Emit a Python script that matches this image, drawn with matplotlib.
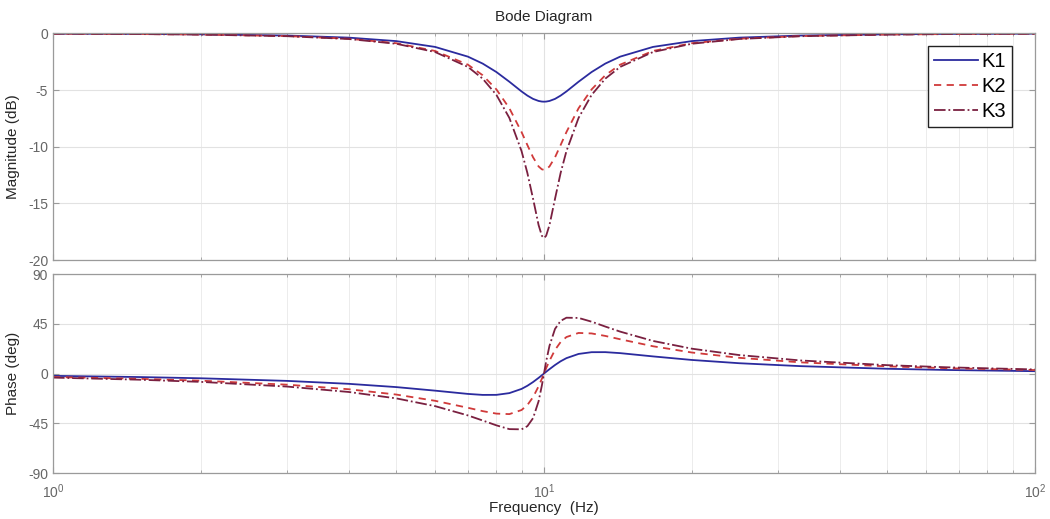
import numpy as np
import matplotlib
matplotlib.use("Agg")
import matplotlib.pyplot as plt
from matplotlib.ticker import LogLocator, NullFormatter, FixedLocator

plt.rcParams['font.family'] = ['Liberation Sans', 'DejaVu Sans']
plt.rcParams['mathtext.fontset'] = 'custom'
plt.rcParams['mathtext.rm'] = 'Liberation Sans'
plt.rcParams['axes.unicode_minus'] = False

# frequency points (Hz)
freq = [1, 1.5, 2, 3, 4, 5, 6, 7, 7.5, 8, 8.5, 9, 9.25, 9.5, 9.75, 9.9, 10,
        10.1, 10.26, 10.53, 10.81, 11.11, 11.76, 12.5, 13.33, 14.29, 16.67,
        20, 25, 33.33, 50, 66.67, 100]

# magnitude (dB)
mag_k1 = [-0.018, -0.041, -0.074, -0.182, -0.366, -0.673, -1.187, -2.046, -2.658,
          -3.405, -4.260, -5.116, -5.485, -5.775, -5.958, -6.011, -6.021,
          -6.011, -5.958, -5.775, -5.485, -5.116, -4.260, -3.405, -2.658, -2.046,
          -1.187, -0.673, -0.366, -0.182, -0.074, -0.041, -0.018]
mag_k2 = [-0.022, -0.051, -0.093, -0.229, -0.463, -0.859, -1.543, -2.755, -3.687,
          -4.940, -6.600, -8.701, -9.851, -10.933, -11.740, -11.992, -12.041,
          -11.992, -11.740, -10.933, -9.851, -8.701, -6.600, -4.940, -3.687, -2.755,
          -1.543, -0.859, -0.463, -0.229, -0.093, -0.051, -0.022]
mag_k3 = [-0.023, -0.053, -0.098, -0.241, -0.487, -0.907, -1.637, -2.952, -3.988,
          -5.426, -7.454, -10.381, -12.317, -14.596, -16.917, -17.859, -18.062,
          -17.859, -16.917, -14.596, -12.317, -10.381, -7.454, -5.426, -3.988, -2.952,
          -1.637, -0.907, -0.487, -0.241, -0.098, -0.053, -0.023]

# phase (deg)
ph_k1 = [-2.11, -3.19, -4.30, -6.67, -9.31, -12.27, -15.49, -18.45, -19.34,
         -19.30, -17.72, -13.92, -11.08, -7.70, -3.93, -1.57, 0.0,
         1.57, 3.93, 7.70, 11.08, 13.92, 17.72, 19.30, 19.34, 18.45,
         15.49, 12.27, 9.31, 6.67, 4.30, 3.19, 2.11]
ph_k2 = [-3.16, -4.79, -6.47, -10.09, -14.20, -19.01, -24.67, -31.00, -34.01,
         -36.27, -36.71, -33.03, -28.48, -21.35, -11.54, -4.71, 0.0,
         4.71, 11.54, 21.35, 28.48, 33.03, 36.71, 36.27, 34.01, 31.00,
         24.67, 19.01, 14.20, 10.09, 6.47, 4.79, 3.16]
ph_k3 = [-3.69, -5.59, -7.56, -11.81, -16.68, -22.47, -29.49, -37.92, -42.49,
         -46.89, -50.29, -50.49, -47.62, -40.36, -25.06, -10.84, 0.0,
         10.84, 25.06, 40.36, 47.62, 50.49, 50.29, 46.89, 42.49, 37.92,
         29.49, 22.47, 16.68, 11.81, 7.56, 5.59, 3.69]

labels = ['K1', 'K2', 'K3']
colors = ['#2b2b9e', '#d03a3a', '#7a2040']
styles = ['-', (0, (4, 3)), '-.']

fig = plt.figure(figsize=(10.5, 5.19), dpi=100)
ax1 = fig.add_axes([0.0505, 0.499, 0.9352, 0.4365])
ax2 = fig.add_axes([0.0505, 0.0886, 0.9352, 0.3834])

for m, p, lab, c, ls in zip([mag_k1, mag_k2, mag_k3], [ph_k1, ph_k2, ph_k3],
                            labels, colors, styles):
    ax1.plot(freq, m, color=c, linestyle=ls, linewidth=1.3, label=lab)
    ax2.plot(freq, p, color=c, linestyle=ls, linewidth=1.3, label=lab)

for ax in (ax1, ax2):
    ax.set_xscale('log')
    ax.set_xlim(1, 100)
    ax.xaxis.set_major_locator(LogLocator(base=10, numticks=5))
    ax.xaxis.set_minor_locator(LogLocator(base=10, subs=np.arange(2, 10), numticks=20))
    ax.xaxis.set_minor_formatter(NullFormatter())
    ax.grid(True, which='major', color='#e2e2e2', linewidth=0.8)
    ax.grid(True, which='minor', axis='x', color='#ececec', linewidth=0.7)
    ax.tick_params(which='both', direction='in', top=True, right=True,
                   colors='#9a9a9a', labelcolor='#666666', labelsize=10)
    ax.tick_params(which='major', length=4)
    ax.tick_params(which='minor', length=2.5)
    ax.tick_params(axis='x', pad=7)
    for s in ax.spines.values():
        s.set_color('#9a9a9a')
        s.set_linewidth(0.9)

ax1.set_ylim(-20, 0)
ax1.yaxis.set_major_locator(FixedLocator([-20, -15, -10, -5, 0]))
ax1.tick_params(labelbottom=False)
ax1.set_ylabel('Magnitude (dB)', fontsize=11, color='#262626', labelpad=6)
ax1.set_title('Bode Diagram', fontsize=11, color='#262626', pad=9)

ax2.set_ylim(-90, 90)
ax2.yaxis.set_major_locator(FixedLocator([-90, -45, 0, 45, 90]))
ax2.set_ylabel('Phase (deg)', fontsize=11, color='#262626', labelpad=6)
ax2.set_xlabel('Frequency  (Hz)', fontsize=11, color='#262626', labelpad=0)

leg = ax1.legend(loc='upper right', bbox_to_anchor=(0.9765, 0.945), fontsize=14.5,
                 fancybox=False, framealpha=1, edgecolor='#222222',
                 handlelength=2.2, handletextpad=0.15, borderpad=0.3,
                 labelspacing=0.3, borderaxespad=0)
leg.get_frame().set_linewidth(1.0)

fig.savefig('out.png', dpi=100)
